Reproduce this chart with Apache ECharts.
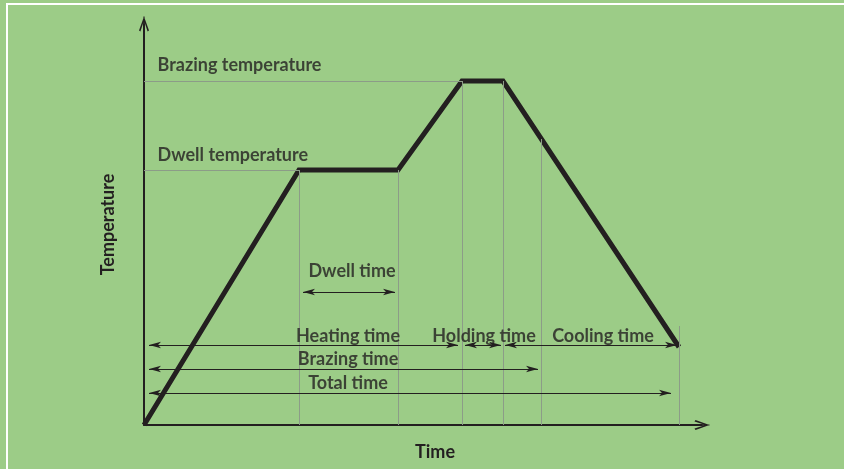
<!DOCTYPE html>
<html>
<head>
<meta charset="utf-8">
<script src="https://cdn.jsdelivr.net/npm/echarts@6/dist/echarts.min.js"></script>
<style>
  html, body { margin: 0; padding: 0; background: #9ccc87; }
  #frame { position: absolute; left: 6px; top: 3px; right: -10px; bottom: -10px;
           border-left: 2px solid #ffffff; border-top: 2px solid #ffffff; }
  #chart { position: absolute; left: 0; top: 0; width: 844px; height: 469px; }
</style>
</head>
<body>
<div id="frame"></div>
<div id="chart"></div>
<script>
// Temperature profile (time units, temperature units)
const profileTime = [0, 155, 254, 318, 359, 535];
const profileTemp = [0, 255, 255, 344, 344, 78];

// reference levels
const dwellTemp = 255;
const brazingTemp = 344;

// vertical guide times and their tops
const guideTimes = [155, 254, 318, 359, 397, 535];
const guideTops  = [255, 255, 344, 344, 286, 99];

// interval arrows: [label, start, end, level]
const arrowNames  = ['Dwell time', 'Heating time', 'Holding time', 'Cooling time', 'Brazing time', 'Total time'];
const arrowStarts = [159, 5, 321, 361, 5, 5];
const arrowEnds   = [251, 314, 357, 533, 394, 527];
const arrowLevels = [133, 80, 80, 80, 56, 32];

// text labels: [text, x, y]
const centerTexts = ['Dwell time', 'Heating time', 'Brazing time', 'Total time', 'Holding time', 'Cooling time'];
const centerX = [208, 204, 204, 204, 340, 459];
const centerY = [154, 89, 66, 42, 89, 89];
const leftTexts = ['Brazing temperature', 'Dwell temperature'];
const leftX = [13, 13];
const leftY = [360, 270];

const FONT = 'Lato';
const TXT = '#231f20';
const WEIGHT = 'bold';

const chevron = 'path://M5,0 L10,14 L8.6,15 L5,4 L1.4,15 L0,14 Z M4.4,0 L5.6,0 L5.6,15 L4.4,15 Z';

const chart = echarts.init(document.getElementById('chart'), null, { renderer: 'canvas' });

const guideLines = [];
guideLines.push([{ coord: [0, brazingTemp] }, { coord: [318, brazingTemp] }]);
guideLines.push([{ coord: [0, dwellTemp] }, { coord: [155, dwellTemp] }]);
guideTimes.forEach((t, i) => guideLines.push([{ coord: [t, 0] }, { coord: [t, guideTops[i]] }]));

const arrowLines = arrowStarts.map((s, i) => [{ coord: [s, arrowLevels[i]] }, { coord: [arrowEnds[i], arrowLevels[i]] }]);

const option = {
  backgroundColor: 'transparent',
  animation: false,
  grid: { left: 144, right: 142, top: 24, bottom: 44, containLabel: false, outerBoundsMode: 'none' },
  xAxis: {
    type: 'value', min: 0, max: 558,
    splitLine: { show: false }, axisTick: { show: false }, axisLabel: { show: false },
    axisLine: { show: true, onZero: false, lineStyle: { color: TXT, width: 2 },
                symbol: ['none', chevron], symbolSize: [10, 15] },
    name: 'Time', nameLocation: 'middle', nameGap: 18,
    nameTextStyle: { fontFamily: FONT, fontSize: 18, color: TXT, fontWeight: WEIGHT, padding: [0, 0, 0, 24] }
  },
  yAxis: {
    type: 'value', min: 0, max: 401,
    splitLine: { show: false }, axisTick: { show: false }, axisLabel: { show: false },
    axisLine: { show: true, onZero: false, lineStyle: { color: TXT, width: 2 },
                symbol: ['none', chevron], symbolSize: [10, 15] },
    name: 'Temperature', nameLocation: 'middle', nameGap: 27,
    nameTextStyle: { fontFamily: FONT, fontSize: 18, color: TXT, fontWeight: WEIGHT }
  },
  series: [
    {
      type: 'line', z: 3,
      data: profileTime.map((t, i) => [t, profileTemp[i]]),
      symbol: 'none',
      lineStyle: { color: TXT, width: 5, join: 'miter' },
      markLine: {
        silent: true, symbol: ['none', 'none'],
        label: { show: false },
        lineStyle: { color: '#8c9c88', width: 1, type: 'solid' },
        data: guideLines
      }
    },
    {
      type: 'line', z: 4, data: [],
      markLine: {
        silent: true, symbol: ['arrow', 'arrow'], symbolSize: [5, 12],
        label: { show: false },
        lineStyle: { color: TXT, width: 1.2, type: 'solid' },
        data: arrowLines
      }
    },
    {
      type: 'scatter', z: 5, symbolSize: 1, itemStyle: { color: 'rgba(0,0,0,0)' },
      data: centerTexts.map((t, i) => ({ value: [centerX[i], centerY[i]], name: t })),
      label: { show: true, position: 'inside', formatter: '{b}',
               fontFamily: FONT, fontSize: 18, color: TXT, fontWeight: WEIGHT }
    },
    {
      type: 'scatter', z: 5, symbolSize: 1, itemStyle: { color: 'rgba(0,0,0,0)' },
      data: leftTexts.map((t, i) => ({ value: [leftX[i], leftY[i]], name: t })),
      label: { show: true, position: 'right', distance: 0, formatter: '{b}',
               fontFamily: FONT, fontSize: 18, color: TXT, fontWeight: WEIGHT }
    }
  ]
};
chart.setOption(option);
</script>
</body>
</html>
